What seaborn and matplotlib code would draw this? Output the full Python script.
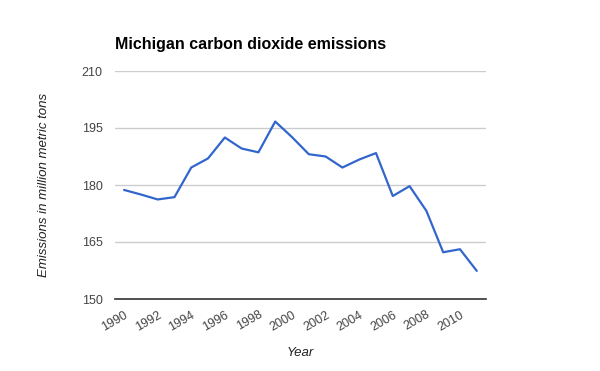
import seaborn as sns
import matplotlib.pyplot as plt
import pandas as pd

years = list(range(1990, 2012))
emissions = [178.7, 177.5, 176.2, 176.8, 184.6, 187.0, 192.5, 189.6, 188.6, 196.7,
             192.6, 188.1, 187.5, 184.6, 186.7, 188.4, 177.1, 179.7, 173.2, 162.3,
             163.1, 157.4]
y_ticks = [150, 165, 180, 195, 210]
x_ticks = list(range(1990, 2012, 2))

df = pd.DataFrame({"Year": years, "Emissions": emissions})

sns.set_theme(style="white")
plt.rcParams['font.family'] = ['Liberation Sans', 'DejaVu Sans']

fig = plt.figure(figsize=(6, 3.71), dpi=100)
ax = fig.add_axes([115/600, 1 - 299/371, (486-115)/600, (299-71)/371])

sns.lineplot(data=df, x="Year", y="Emissions", color="#3366cc", linewidth=1.6, ax=ax)

ax.set_ylim(150, 210)
ax.set_xlim(1989.46, 2011.55)
ax.set_yticks(y_ticks)
ax.set_xticks(x_ticks)
ax.set_xticklabels([str(x) for x in x_ticks], rotation=30, ha="right", rotation_mode="anchor")
ax.yaxis.grid(True, color="#cccccc", linewidth=1)
ax.set_axisbelow(True)
for side in ["top", "right", "left"]:
    ax.spines[side].set_visible(False)
ax.spines["bottom"].set_color("#333333")
ax.spines["bottom"].set_linewidth(1.2)
ax.tick_params(axis="both", length=0, labelsize=9, labelcolor="#444444")
ax.tick_params(axis="y", pad=9)
ax.tick_params(axis="x", pad=7)

ax.set_xlabel("Year", fontsize=9.5, style="italic", color="#222222", labelpad=10)
ax.set_ylabel("Emissions in million metric tons", fontsize=9.5, style="italic", color="#222222", labelpad=23)
fig.text(115/600, 1 - 45/371, "Michigan carbon dioxide emissions", fontsize=11.5,
         fontweight="bold", color="#000000", va="center", ha="left")

fig.savefig("out.png", dpi=100)
